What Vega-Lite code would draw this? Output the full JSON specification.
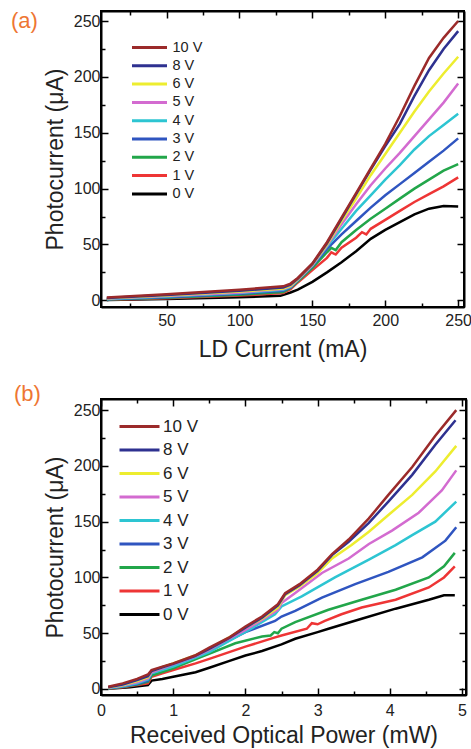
{
  "$schema": "https://vega.github.io/schema/vega-lite/v6.json",
  "padding": {"left": 10, "top": 9, "right": 5, "bottom": 2},
  "spacing": 20,
  "config": {
    "font": "Liberation Sans",
    "view": {"stroke": "black", "strokeWidth": 2},
    "axis": {"domainColor": "black", "domainWidth": 2, "tickColor": "black", "tickWidth": 1.5, "labelFont": "Liberation Sans", "labelFontSize": 16, "labelColor": "#222", "titleFont": "Liberation Sans", "titleFontSize": 23, "titleFontWeight": "normal", "titleColor": "#222", "grid": false, "labelFlush": false},
    "legend": {"title": null, "symbolType": "M-2.5,0H2.5", "symbolStrokeWidth": 3, "labelFont": "Liberation Sans", "labelColor": "#222"},
    "title": {"font": "Liberation Sans", "fontWeight": "normal", "color": "#EE7633", "fontSize": 22}
  },
  "resolve": {"scale": {"x": "independent", "y": "independent", "color": "independent"}, "legend": {"color": "independent"}},
  "datasets": {
    "a": [
      {"v":"0 V","x":9,"y":0.3},{"v":"0 V","x":50,"y":1.2},{"v":"0 V","x":100,"y":2.8},{"v":"0 V","x":128,"y":4},{"v":"0 V","x":135,"y":7},{"v":"0 V","x":140,"y":9.5},{"v":"0 V","x":150,"y":16.5},{"v":"0 V","x":160,"y":25},{"v":"0 V","x":170,"y":34},{"v":"0 V","x":180,"y":44},{"v":"0 V","x":190,"y":55},{"v":"0 V","x":200,"y":63},{"v":"0 V","x":210,"y":70},{"v":"0 V","x":220,"y":77},{"v":"0 V","x":230,"y":82},{"v":"0 V","x":240,"y":84.5},{"v":"0 V","x":250,"y":84},
      {"v":"1 V","x":9,"y":0.6},{"v":"1 V","x":50,"y":1.8},{"v":"1 V","x":100,"y":4.2},{"v":"1 V","x":130,"y":6.5},{"v":"1 V","x":135,"y":10},{"v":"1 V","x":140,"y":16},{"v":"1 V","x":150,"y":27},{"v":"1 V","x":160,"y":38},{"v":"1 V","x":163,"y":43},{"v":"1 V","x":166,"y":41},{"v":"1 V","x":170,"y":47},{"v":"1 V","x":180,"y":56},{"v":"1 V","x":184,"y":61},{"v":"1 V","x":187,"y":59},{"v":"1 V","x":190,"y":64},{"v":"1 V","x":200,"y":72},{"v":"1 V","x":210,"y":80},{"v":"1 V","x":220,"y":88},{"v":"1 V","x":230,"y":95},{"v":"1 V","x":240,"y":102},{"v":"1 V","x":250,"y":110},
      {"v":"2 V","x":9,"y":0.8},{"v":"2 V","x":50,"y":2.3},{"v":"2 V","x":100,"y":5},{"v":"2 V","x":130,"y":7.5},{"v":"2 V","x":135,"y":11},{"v":"2 V","x":140,"y":17},{"v":"2 V","x":150,"y":29},{"v":"2 V","x":160,"y":43},{"v":"2 V","x":163,"y":47},{"v":"2 V","x":166,"y":45},{"v":"2 V","x":170,"y":52},{"v":"2 V","x":180,"y":63},{"v":"2 V","x":190,"y":73},{"v":"2 V","x":200,"y":82},{"v":"2 V","x":210,"y":91},{"v":"2 V","x":220,"y":100},{"v":"2 V","x":230,"y":108},{"v":"2 V","x":240,"y":116},{"v":"2 V","x":250,"y":122},
      {"v":"3 V","x":9,"y":1},{"v":"3 V","x":50,"y":2.8},{"v":"3 V","x":100,"y":5.8},{"v":"3 V","x":130,"y":8.5},{"v":"3 V","x":135,"y":11.5},{"v":"3 V","x":140,"y":18},{"v":"3 V","x":150,"y":30.5},{"v":"3 V","x":160,"y":46},{"v":"3 V","x":170,"y":59},{"v":"3 V","x":180,"y":71},{"v":"3 V","x":190,"y":83},{"v":"3 V","x":200,"y":94},{"v":"3 V","x":210,"y":104},{"v":"3 V","x":220,"y":114},{"v":"3 V","x":230,"y":124},{"v":"3 V","x":240,"y":134},{"v":"3 V","x":250,"y":145},
      {"v":"4 V","x":9,"y":1.2},{"v":"4 V","x":50,"y":3.3},{"v":"4 V","x":100,"y":6.5},{"v":"4 V","x":130,"y":9.5},{"v":"4 V","x":135,"y":12},{"v":"4 V","x":140,"y":18},{"v":"4 V","x":150,"y":31},{"v":"4 V","x":160,"y":48},{"v":"4 V","x":170,"y":64},{"v":"4 V","x":180,"y":80},{"v":"4 V","x":190,"y":94},{"v":"4 V","x":200,"y":108},{"v":"4 V","x":210,"y":121},{"v":"4 V","x":220,"y":135},{"v":"4 V","x":230,"y":147},{"v":"4 V","x":240,"y":157},{"v":"4 V","x":250,"y":167},
      {"v":"5 V","x":9,"y":1.5},{"v":"5 V","x":50,"y":3.8},{"v":"5 V","x":100,"y":7},{"v":"5 V","x":130,"y":10},{"v":"5 V","x":135,"y":12.5},{"v":"5 V","x":140,"y":18.5},{"v":"5 V","x":150,"y":31.5},{"v":"5 V","x":160,"y":49},{"v":"5 V","x":170,"y":68},{"v":"5 V","x":180,"y":86},{"v":"5 V","x":190,"y":103},{"v":"5 V","x":200,"y":118},{"v":"5 V","x":210,"y":132},{"v":"5 V","x":220,"y":147},{"v":"5 V","x":230,"y":162},{"v":"5 V","x":240,"y":177},{"v":"5 V","x":250,"y":194},
      {"v":"6 V","x":9,"y":1.8},{"v":"6 V","x":50,"y":4.2},{"v":"6 V","x":100,"y":7.8},{"v":"6 V","x":130,"y":10.5},{"v":"6 V","x":135,"y":13},{"v":"6 V","x":140,"y":19},{"v":"6 V","x":150,"y":32},{"v":"6 V","x":160,"y":50},{"v":"6 V","x":170,"y":71},{"v":"6 V","x":180,"y":91},{"v":"6 V","x":190,"y":112},{"v":"6 V","x":200,"y":131},{"v":"6 V","x":210,"y":150},{"v":"6 V","x":220,"y":169},{"v":"6 V","x":230,"y":187},{"v":"6 V","x":240,"y":203},{"v":"6 V","x":250,"y":218},
      {"v":"8 V","x":9,"y":2},{"v":"8 V","x":50,"y":4.8},{"v":"8 V","x":100,"y":8.5},{"v":"8 V","x":130,"y":11.5},{"v":"8 V","x":135,"y":14},{"v":"8 V","x":140,"y":19.5},{"v":"8 V","x":150,"y":32.5},{"v":"8 V","x":160,"y":51},{"v":"8 V","x":170,"y":73},{"v":"8 V","x":180,"y":95},{"v":"8 V","x":190,"y":117},{"v":"8 V","x":200,"y":138},{"v":"8 V","x":210,"y":158},{"v":"8 V","x":220,"y":183},{"v":"8 V","x":230,"y":206},{"v":"8 V","x":240,"y":225},{"v":"8 V","x":250,"y":241},
      {"v":"10 V","x":9,"y":2.5},{"v":"10 V","x":50,"y":5.5},{"v":"10 V","x":100,"y":9.5},{"v":"10 V","x":130,"y":12.5},{"v":"10 V","x":135,"y":15},{"v":"10 V","x":140,"y":20},{"v":"10 V","x":150,"y":33},{"v":"10 V","x":160,"y":52},{"v":"10 V","x":170,"y":74},{"v":"10 V","x":180,"y":96},{"v":"10 V","x":190,"y":118},{"v":"10 V","x":200,"y":140},{"v":"10 V","x":210,"y":165},{"v":"10 V","x":220,"y":192},{"v":"10 V","x":230,"y":217},{"v":"10 V","x":240,"y":235},{"v":"10 V","x":250,"y":250}
    ],
    "b": [
      {"v":"0 V","x":0.1,"y":0.3},{"v":"0 V","x":0.4,"y":1.5},{"v":"0 V","x":0.65,"y":3.5},{"v":"0 V","x":0.7,"y":7.5},{"v":"0 V","x":0.85,"y":9},{"v":"0 V","x":1.0,"y":11},{"v":"0 V","x":1.31,"y":15},{"v":"0 V","x":1.5,"y":19},{"v":"0 V","x":1.77,"y":25},{"v":"0 V","x":2.0,"y":30},{"v":"0 V","x":2.23,"y":34},{"v":"0 V","x":2.5,"y":40},{"v":"0 V","x":2.69,"y":45},{"v":"0 V","x":3.0,"y":51},{"v":"0 V","x":3.15,"y":54},{"v":"0 V","x":3.61,"y":63},{"v":"0 V","x":4.08,"y":72},{"v":"0 V","x":4.54,"y":80},{"v":"0 V","x":4.75,"y":84},{"v":"0 V","x":4.9,"y":84},
      {"v":"1 V","x":0.1,"y":0.4},{"v":"1 V","x":0.3,"y":1.6},{"v":"1 V","x":0.5,"y":3.5},{"v":"1 V","x":0.65,"y":5},{"v":"1 V","x":0.7,"y":11},{"v":"1 V","x":0.85,"y":14},{"v":"1 V","x":1.0,"y":17},{"v":"1 V","x":1.31,"y":23},{"v":"1 V","x":1.5,"y":27},{"v":"1 V","x":2.0,"y":38},{"v":"1 V","x":2.4,"y":46},{"v":"1 V","x":2.5,"y":48},{"v":"1 V","x":2.85,"y":54},{"v":"1 V","x":2.92,"y":59},{"v":"1 V","x":3.0,"y":58},{"v":"1 V","x":3.1,"y":61},{"v":"1 V","x":3.33,"y":67},{"v":"1 V","x":3.61,"y":73},{"v":"1 V","x":4.08,"y":80},{"v":"1 V","x":4.54,"y":91},{"v":"1 V","x":4.75,"y":100},{"v":"1 V","x":4.9,"y":110},
      {"v":"2 V","x":0.1,"y":0.5},{"v":"2 V","x":0.3,"y":2},{"v":"2 V","x":0.5,"y":4},{"v":"2 V","x":0.65,"y":6.5},{"v":"2 V","x":0.7,"y":12},{"v":"2 V","x":0.98,"y":18},{"v":"2 V","x":1.4,"y":29},{"v":"2 V","x":1.86,"y":41},{"v":"2 V","x":2.23,"y":47},{"v":"2 V","x":2.35,"y":48},{"v":"2 V","x":2.4,"y":51},{"v":"2 V","x":2.45,"y":50},{"v":"2 V","x":2.5,"y":54},{"v":"2 V","x":2.69,"y":60},{"v":"2 V","x":3.15,"y":71},{"v":"2 V","x":3.61,"y":80},{"v":"2 V","x":4.08,"y":89},{"v":"2 V","x":4.54,"y":100},{"v":"2 V","x":4.75,"y":110},{"v":"2 V","x":4.9,"y":122},
      {"v":"3 V","x":0.1,"y":0.7},{"v":"3 V","x":0.3,"y":2.2},{"v":"3 V","x":0.5,"y":4.5},{"v":"3 V","x":0.65,"y":7.5},{"v":"3 V","x":0.7,"y":14},{"v":"3 V","x":1.0,"y":21},{"v":"3 V","x":1.54,"y":36},{"v":"3 V","x":2.0,"y":51},{"v":"3 V","x":2.41,"y":61},{"v":"3 V","x":2.5,"y":65},{"v":"3 V","x":2.69,"y":70},{"v":"3 V","x":3.06,"y":82},{"v":"3 V","x":3.52,"y":94},{"v":"3 V","x":3.98,"y":105},{"v":"3 V","x":4.45,"y":118},{"v":"3 V","x":4.77,"y":133},{"v":"3 V","x":4.92,"y":145},
      {"v":"4 V","x":0.1,"y":0.8},{"v":"4 V","x":0.3,"y":2.5},{"v":"4 V","x":0.5,"y":5},{"v":"4 V","x":0.65,"y":8.5},{"v":"4 V","x":0.7,"y":14},{"v":"4 V","x":1.0,"y":20},{"v":"4 V","x":1.5,"y":33},{"v":"4 V","x":1.8,"y":44},{"v":"4 V","x":2.05,"y":53},{"v":"4 V","x":2.41,"y":67},{"v":"4 V","x":2.5,"y":74},{"v":"4 V","x":2.78,"y":83},{"v":"4 V","x":3.24,"y":100},{"v":"4 V","x":3.71,"y":116},{"v":"4 V","x":4.08,"y":129},{"v":"4 V","x":4.31,"y":138},{"v":"4 V","x":4.63,"y":150},{"v":"4 V","x":4.92,"y":168},
      {"v":"5 V","x":0.1,"y":1},{"v":"5 V","x":0.3,"y":3},{"v":"5 V","x":0.5,"y":6},{"v":"5 V","x":0.65,"y":9.5},{"v":"5 V","x":0.7,"y":15},{"v":"5 V","x":0.85,"y":18.5},{"v":"5 V","x":1.0,"y":22},{"v":"5 V","x":1.3,"y":29},{"v":"5 V","x":1.5,"y":35},{"v":"5 V","x":1.77,"y":45},{"v":"5 V","x":2.0,"y":53},{"v":"5 V","x":2.23,"y":62},{"v":"5 V","x":2.45,"y":71},{"v":"5 V","x":2.5,"y":77},{"v":"5 V","x":2.69,"y":86},{"v":"5 V","x":3.06,"y":104},{"v":"5 V","x":3.43,"y":117},{"v":"5 V","x":3.71,"y":130},{"v":"5 V","x":4.03,"y":142},{"v":"5 V","x":4.4,"y":158},{"v":"5 V","x":4.72,"y":178},{"v":"5 V","x":4.92,"y":196},
      {"v":"6 V","x":0.1,"y":1.2},{"v":"6 V","x":0.3,"y":3.5},{"v":"6 V","x":0.5,"y":7},{"v":"6 V","x":0.65,"y":10.5},{"v":"6 V","x":0.7,"y":16},{"v":"6 V","x":0.85,"y":19.5},{"v":"6 V","x":1.0,"y":23},{"v":"6 V","x":1.3,"y":30},{"v":"6 V","x":1.5,"y":36},{"v":"6 V","x":1.77,"y":46},{"v":"6 V","x":2.0,"y":55},{"v":"6 V","x":2.23,"y":63},{"v":"6 V","x":2.45,"y":73},{"v":"6 V","x":2.5,"y":79},{"v":"6 V","x":2.55,"y":84},{"v":"6 V","x":2.75,"y":92},{"v":"6 V","x":3.0,"y":104},{"v":"6 V","x":3.2,"y":117},{"v":"6 V","x":3.47,"y":129},{"v":"6 V","x":3.71,"y":141},{"v":"6 V","x":3.98,"y":156},{"v":"6 V","x":4.31,"y":174},{"v":"6 V","x":4.63,"y":195},{"v":"6 V","x":4.92,"y":218},
      {"v":"8 V","x":0.1,"y":1.5},{"v":"8 V","x":0.3,"y":4},{"v":"8 V","x":0.5,"y":8},{"v":"8 V","x":0.65,"y":11.5},{"v":"8 V","x":0.7,"y":16},{"v":"8 V","x":0.85,"y":19.5},{"v":"8 V","x":1.0,"y":22.5},{"v":"8 V","x":1.3,"y":29.5},{"v":"8 V","x":1.5,"y":36},{"v":"8 V","x":1.77,"y":45.5},{"v":"8 V","x":2.0,"y":55},{"v":"8 V","x":2.23,"y":64},{"v":"8 V","x":2.45,"y":75},{"v":"8 V","x":2.5,"y":80},{"v":"8 V","x":2.55,"y":85},{"v":"8 V","x":2.75,"y":93},{"v":"8 V","x":3.0,"y":106},{"v":"8 V","x":3.2,"y":120},{"v":"8 V","x":3.43,"y":132},{"v":"8 V","x":3.71,"y":149},{"v":"8 V","x":3.98,"y":168},{"v":"8 V","x":4.31,"y":192},{"v":"8 V","x":4.63,"y":219},{"v":"8 V","x":4.91,"y":241},
      {"v":"10 V","x":0.1,"y":2},{"v":"10 V","x":0.3,"y":5},{"v":"10 V","x":0.5,"y":9},{"v":"10 V","x":0.65,"y":13},{"v":"10 V","x":0.7,"y":17},{"v":"10 V","x":0.85,"y":20},{"v":"10 V","x":1.0,"y":23},{"v":"10 V","x":1.3,"y":30},{"v":"10 V","x":1.5,"y":37},{"v":"10 V","x":1.77,"y":46},{"v":"10 V","x":2.0,"y":56},{"v":"10 V","x":2.23,"y":65},{"v":"10 V","x":2.45,"y":76},{"v":"10 V","x":2.5,"y":81},{"v":"10 V","x":2.55,"y":86},{"v":"10 V","x":2.75,"y":94},{"v":"10 V","x":3.0,"y":107},{"v":"10 V","x":3.2,"y":121},{"v":"10 V","x":3.43,"y":134},{"v":"10 V","x":3.71,"y":153},{"v":"10 V","x":3.98,"y":174},{"v":"10 V","x":4.31,"y":199},{"v":"10 V","x":4.63,"y":227},{"v":"10 V","x":4.92,"y":250}
    ]
  },
  "vconcat": [
    {
      "width": 363, "height": 296,
      "title": {"text": "(a)", "orient": "none", "anchor": "start", "dx": -90, "dy": 10, "baseline": "middle"},
      "data": {"name": "a"},
      "resolve": {"axis": {"x": "independent", "y": "independent"}},
      "layer": [
        {
          "mark": {"type": "line", "strokeWidth": 2.5, "clip": true},
          "encoding": {
            "x": {"field": "x", "type": "quantitative", "scale": {"domain": [5, 254], "nice": false, "zero": false},
              "axis": {"orient": "bottom", "values": [25,50,75,100,125,150,175,200,225,250], "labelExpr": "datum.value % 50 === 0 ? datum.label : ''", "tickSize": {"condition": {"test": "datum.value % 50 === 0", "value": -7}, "value": -4}, "labelPadding": 12, "title": "LD Current (mA)", "titlePadding": 10}},
            "y": {"field": "y", "type": "quantitative", "scale": {"domain": [-6, 259], "nice": false, "zero": false},
              "axis": {"orient": "left", "values": [0,25,50,75,100,125,150,175,200,225,250], "labelExpr": "datum.value % 50 === 0 ? datum.label : ''", "tickSize": {"condition": {"test": "datum.value % 50 === 0", "value": -7}, "value": -4}, "labelPadding": 8, "title": "Photocurrent (μA)", "titlePadding": 6}},
            "color": {"field": "v", "type": "nominal",
              "scale": {"domain": ["10 V","8 V","6 V","5 V","4 V","3 V","2 V","1 V","0 V"], "range": ["#9B2A2A","#2E3190","#EDED2F","#D36BD0","#2DC5D2","#2F55C0","#22A64A","#EE3535","#000000"]},
              "legend": {"orient": "none", "legendX": 40, "legendY": 28, "symbolSize": 196, "labelFontSize": 14.5, "labelOffset": 14.5, "rowPadding": 3.3}}
          }
        },
        {
          "mark": {"type": "line", "opacity": 0},
          "encoding": {
            "x": {"field": "x", "type": "quantitative", "scale": {"domain": [5, 254], "nice": false, "zero": false},
              "axis": {"orient": "top", "values": [25,50,75,100,125,150,175,200,225,250], "labels": false, "title": null, "tickSize": {"condition": {"test": "datum.value % 50 === 0", "value": -7}, "value": -4}}},
            "y": {"field": "y", "type": "quantitative", "scale": {"domain": [-6, 259], "nice": false, "zero": false},
              "axis": {"orient": "right", "values": [0,25,50,75,100,125,150,175,200,225,250], "labels": false, "title": null, "tickSize": {"condition": {"test": "datum.value % 50 === 0", "value": -7}, "value": -4}}}
          }
        }
      ]
    },
    {
      "width": 365, "height": 296,
      "title": {"text": "(b)", "orient": "none", "anchor": "start", "dx": -87, "dy": -5, "baseline": "middle"},
      "data": {"name": "b"},
      "resolve": {"axis": {"x": "independent", "y": "independent"}},
      "layer": [
        {
          "mark": {"type": "line", "strokeWidth": 2.5, "clip": true},
          "encoding": {
            "x": {"field": "x", "type": "quantitative", "scale": {"domain": [0, 5.055], "nice": false, "zero": false},
              "axis": {"orient": "bottom", "values": [0,0.5,1,1.5,2,2.5,3,3.5,4,4.5,5], "labelExpr": "datum.value % 1 === 0 ? format(datum.value, 'd') : ''", "tickSize": {"condition": {"test": "datum.value % 1 === 0", "value": -7}, "value": -4}, "labelPadding": 14, "title": "Received Optical Power (mW)", "titlePadding": 6}},
            "y": {"field": "y", "type": "quantitative", "scale": {"domain": [-5.4, 260], "nice": false, "zero": false},
              "axis": {"orient": "left", "values": [0,25,50,75,100,125,150,175,200,225,250], "labelExpr": "datum.value % 50 === 0 ? datum.label : ''", "tickSize": {"condition": {"test": "datum.value % 50 === 0", "value": -7}, "value": -4}, "labelPadding": 8, "title": "Photocurrent (μA)", "titlePadding": 6}},
            "color": {"field": "v", "type": "nominal",
              "scale": {"domain": ["10 V","8 V","6 V","5 V","4 V","3 V","2 V","1 V","0 V"], "range": ["#9B2A2A","#2E3190","#EDED2F","#D36BD0","#2DC5D2","#2F55C0","#22A64A","#EE3535","#000000"]},
              "legend": {"orient": "none", "legendX": 29, "legendY": 18, "symbolSize": 256, "labelFontSize": 17, "labelOffset": 14, "rowPadding": 5.5}}
          }
        },
        {
          "mark": {"type": "line", "opacity": 0},
          "encoding": {
            "x": {"field": "x", "type": "quantitative", "scale": {"domain": [0, 5.055], "nice": false, "zero": false},
              "axis": {"orient": "top", "values": [0,0.5,1,1.5,2,2.5,3,3.5,4,4.5,5], "labels": false, "title": null, "tickSize": {"condition": {"test": "datum.value % 1 === 0", "value": -7}, "value": -4}}},
            "y": {"field": "y", "type": "quantitative", "scale": {"domain": [-5.4, 260], "nice": false, "zero": false},
              "axis": {"orient": "right", "values": [0,25,50,75,100,125,150,175,200,225,250], "labels": false, "title": null, "tickSize": {"condition": {"test": "datum.value % 50 === 0", "value": -7}, "value": -4}}}
          }
        }
      ]
    }
  ]
}
